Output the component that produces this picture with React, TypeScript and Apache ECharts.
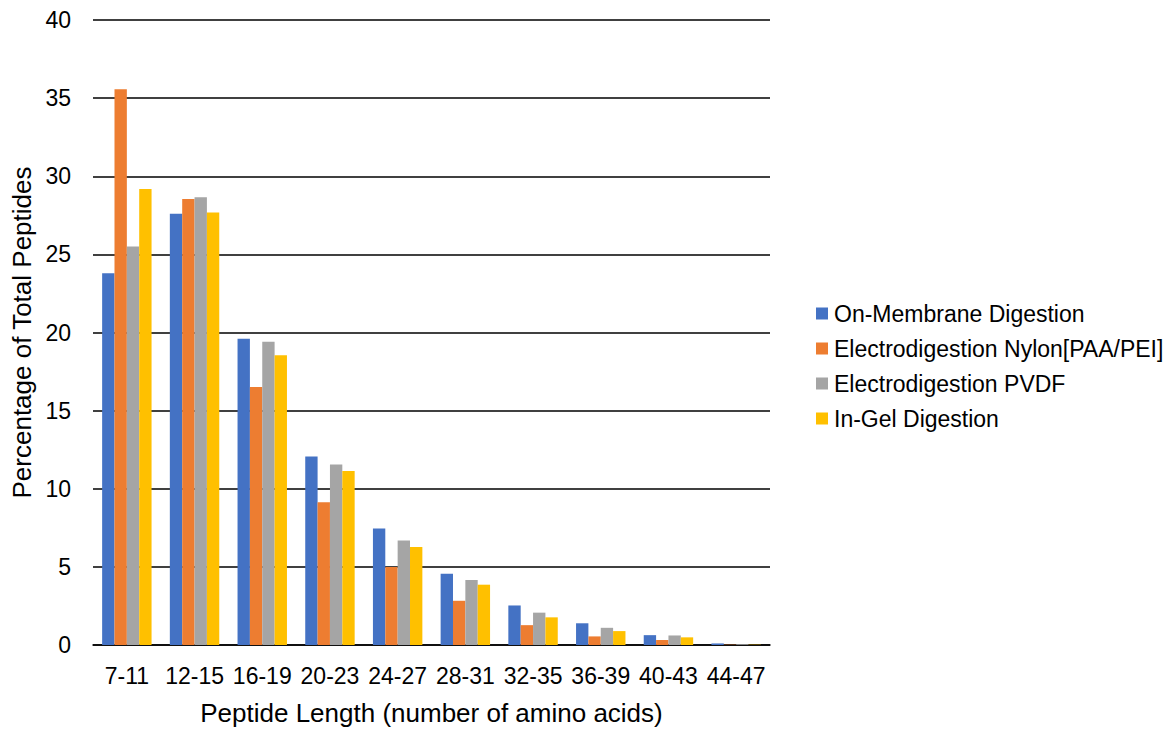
import React, { useEffect, useRef } from "react";
import * as echarts from "echarts";

const categories = ["7-11", "12-15", "16-19", "20-23", "24-27", "28-31", "32-35", "36-39", "40-43", "44-47"];
const onMembrane = [23.8, 27.6, 19.6, 12.07, 7.45, 4.56, 2.53, 1.39, 0.63, 0.1];
const electroNylon = [35.57, 28.54, 16.52, 9.13, 5.0, 2.83, 1.27, 0.55, 0.32, 0.02];
const electroPvdf = [25.5, 28.65, 19.41, 11.56, 6.69, 4.16, 2.07, 1.1, 0.61, 0.05];
const inGel = [29.18, 27.68, 18.54, 11.14, 6.27, 3.86, 1.77, 0.89, 0.49, 0.02];

const seriesNames = [
  "On-Membrane Digestion",
  "Electrodigestion Nylon[PAA/PEI]",
  "Electrodigestion PVDF",
  "In-Gel Digestion",
];
const colors = ["#4472C4", "#ED7D31", "#A5A5A5", "#FFC000"];

export default function App() {
  const ref = useRef<HTMLDivElement>(null);

  useEffect(() => {
    document.body.style.margin = "0";
    if (!ref.current) return;
    const chart = echarts.init(ref.current, null, { renderer: "svg" });
    const font = "'Liberation Sans', Arial, sans-serif";
    const values = [onMembrane, electroNylon, electroPvdf, inGel];
    chart.setOption({
      animation: false,
      textStyle: { fontFamily: font, color: "#000" },
      grid: { left: 93, right: 405, top: 20, bottom: 79 },
      legend: {
        orient: "vertical",
        left: 811,
        top: 297,
        itemWidth: 12,
        itemHeight: 12,
        itemGap: 12,
        icon: "rect",
        textStyle: { fontSize: 23, color: "#000", fontFamily: font, padding: [0, 0, 0, 1] },
        data: seriesNames,
      },
      xAxis: {
        type: "category",
        data: categories,
        name: "Peptide Length (number of amino acids)",
        nameLocation: "middle",
        nameGap: 55,
        nameTextStyle: { fontSize: 26, color: "#000", fontFamily: font },
        axisLine: { lineStyle: { color: "#000", width: 1.5 } },
        axisTick: { show: false },
        axisLabel: { fontSize: 23, color: "#000", margin: 19, interval: 0 },
      },
      yAxis: {
        type: "value",
        min: 0,
        max: 40,
        interval: 5,
        name: "Percentage of Total Peptides",
        nameLocation: "middle",
        nameGap: 58,
        nameTextStyle: { fontSize: 26, color: "#000", fontFamily: font },
        axisLine: { show: false },
        axisTick: { show: false },
        axisLabel: { fontSize: 23, color: "#000", margin: 22 },
        splitLine: { lineStyle: { color: "#000", width: 1.5 } },
      },
      series: seriesNames.map((name, i) => ({
        name,
        type: "bar",
        data: values[i],
        itemStyle: { color: colors[i] },
        barGap: "0%",
        barCategoryGap: "27%",
      })),
    });
    return () => chart.dispose();
  }, []);

  return <div ref={ref} style={{ width: 1175, height: 731 }} />;
}
